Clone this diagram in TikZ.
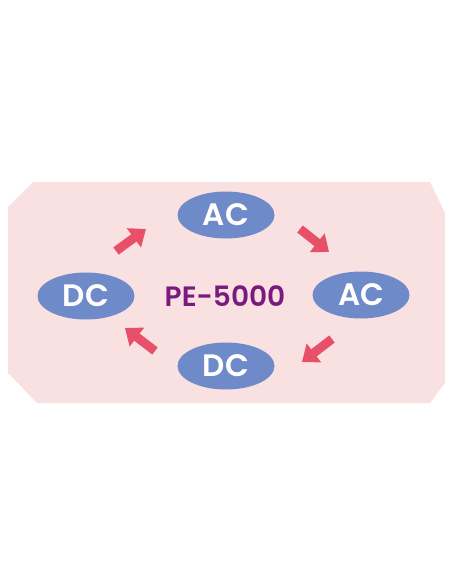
\documentclass[tikz,border=0pt]{standalone}
\usepackage{fontspec}
\setmainfont{Poppins}
\newfontfamily\psemi{Poppins SemiBold}
\usetikzlibrary{arrows.meta,shapes.geometric}
\definecolor{bgpink}{HTML}{F9E1E2}
\definecolor{ellblue}{HTML}{6F8AC8}
\definecolor{arrred}{HTML}{E8506A}
\definecolor{pepurple}{HTML}{7A1A7E}
\begin{document}
\begin{tikzpicture}[x=1pt,y=-1pt,
  ell/.style={ellipse,fill=ellblue,minimum width=97pt,minimum height=47pt,inner sep=0pt,
    text=white,font=\psemi\fontsize{31}{31}\selectfont},
  blockarrow/.style={arrred,line width=9pt,-{Triangle[length=15pt,width=23pt]}}]
\useasboundingbox (0,0) rectangle (452,584);
\fill[bgpink] (33,182) -- (430,182) -- (445,213) -- (445,383) -- (430,403)
  -- (37,403) -- (8,373) -- (8,207) -- cycle;
\node[ell] (ac1) at (226,215) {AC};
\node[ell] (ac2) at (361,295) {AC};
\node[ell] (dc1) at (86,296) {DC};
\node[ell] (dc2) at (226,366) {DC};
\node[text=pepurple,font=\psemi\fontsize{28}{28}\selectfont] (pe) at (225,296) {PE-5000};
\coordinate (a1s) at (116,251); \coordinate (a1e) at (146,229);
\coordinate (a2s) at (300,229); \coordinate (a2e) at (329,252);
\coordinate (a3s) at (332,339); \coordinate (a3e) at (302,362);
\coordinate (a4s) at (155,351); \coordinate (a4e) at (125,328);
\draw[blockarrow] (a1s) -- (a1e);
\draw[blockarrow] (a2s) -- (a2e);
\draw[blockarrow] (a3s) -- (a3e);
\draw[blockarrow] (a4s) -- (a4e);
\end{tikzpicture}
\end{document}
